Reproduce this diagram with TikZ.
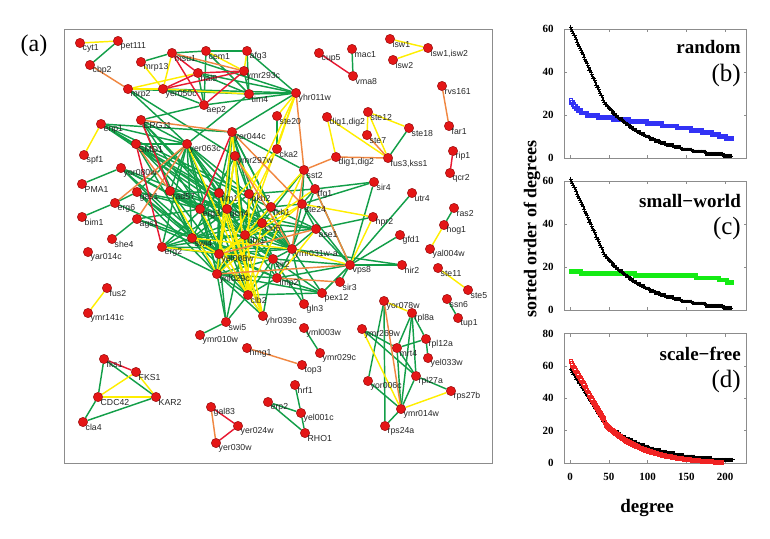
\documentclass[tikz,border=0pt]{standalone}
\usepackage{fontspec}
\setmainfont{Liberation Serif}
\newfontfamily\lsans{Liberation Sans}
\usetikzlibrary{plotmarks}
\pgfdeclarelayer{bg}
\pgfsetlayers{bg,main}
\definecolor{eg}{RGB}{18,158,72}
\definecolor{ey}{RGB}{255,238,0}
\definecolor{eo}{RGB}{240,135,65}
\definecolor{er}{RGB}{232,25,50}
\definecolor{dotred}{RGB}{228,22,22}
\definecolor{dotedge}{RGB}{140,0,0}
\definecolor{bluesq}{RGB}{50,50,245}
\definecolor{greensq}{RGB}{20,235,20}
\definecolor{redsq}{RGB}{240,35,35}
\newcommand\nd[4]{\node[dot] (#1) at (#2,#3) {}; \node[lbl] (#1-t) at (#2+2.5,#3+5.5) {#4};}
\tikzset{
  dot/.style={circle, fill=dotred, draw=dotedge, line width=0.4pt, inner sep=0pt, minimum size=9.4pt},
  lbl/.style={font=\lsans\fontsize{8.7}{9.5}\selectfont, text=black!85, inner sep=0pt, anchor=west},
  ge/.style={draw=eg, line width=1.45pt},
  gy/.style={draw=ey, line width=1.45pt},
  go/.style={draw=eo, line width=1.45pt},
  gr/.style={draw=er, line width=1.45pt},
  frm/.style={draw=black!45, line width=0.5pt},
  tickl/.style={font=\bfseries\fontsize{11}{12}\selectfont, inner sep=0pt},
  ttl/.style={font=\bfseries\fontsize{19}{22}\selectfont, inner sep=0pt, anchor=base east},
  pnl/.style={font=\fontsize{25}{28}\selectfont, inner sep=0pt, anchor=base east},
  plusp/.style={only marks, mark=+, mark size=1.9pt, mark options={draw=black, line width=0.7pt}},
  sqp/.style={only marks, mark=square, mark size=1.9pt, mark options={draw=#1, line width=0.65pt}},
}
\begin{document}
\begin{tikzpicture}[x=1pt,y=-1pt]
\useasboundingbox (0,0) rectangle (770,538);
\draw[frm] (64,29) rectangle (492,463);
\node[font=\fontsize{24}{28}\selectfont, inner sep=0pt] (pa) at (34,46) {(a)};
% nodes
\nd{cyt1}{80}{43}{cyt1}
\nd{pet111}{118}{41}{pet111}
\nd{cbp2}{90}{65}{cbp2}
\nd{mrp13}{141}{62}{mrp13}
\nd{msu1}{172}{53}{msu1}
\nd{cem1}{206}{51}{cem1}
\nd{afg3}{247}{51}{afg3}
\nd{hal9}{198}{73}{hal9}
\nd{ymr293c}{244}{71}{ymr293c}
\nd{mrp2}{128}{89}{mrp2}
\nd{yer050c}{163}{89}{yer050c}
\nd{aep2}{204}{105}{aep2}
\nd{tim4}{249}{94}{tim4}
\nd{yhr011w}{296}{93}{yhr011w}
\nd{cup5}{319}{53}{cup5}
\nd{mac1}{352}{49}{mac1}
\nd{vma8}{353}{76}{vma8}
\nd{isw1}{390}{39}{isw1}
\nd{iswb}{428}{48}{isw1,isw2}
\nd{isw2}{393}{60}{isw2}
\nd{rvs161}{442}{86}{rvs161}
\nd{far1}{449}{126}{far1}
\nd{rip1}{453}{151}{rip1}
\nd{qcr2}{450}{173}{qcr2}
\nd{ste20}{277}{116}{ste20}
\nd{digA}{327}{117}{dig1,dig2}
\nd{ste12}{368}{112}{ste12}
\nd{ste7}{367}{135}{ste7}
\nd{ste18}{409}{128}{ste18}
\nd{digB}{336}{157}{dig1,dig2}
\nd{fus3}{388}{158}{fus3,kss1}
\nd{enp1}{101}{124}{enp1}
\nd{ERG11}{141}{120}{ERG11}
\nd{yer044c}{232}{132}{yer044c}
\nd{cka2}{277}{149}{cka2}
\nd{SMD1}{136}{144}{SMD1}
\nd{yer063c}{187}{144}{yer063c}
\nd{spf1}{84}{155}{spf1}
\nd{ymr297w}{235}{156}{ymr297w}
\nd{yor080w}{121}{168}{yor080w}
\nd{sst2}{304}{170}{sst2}
\nd{PMA1}{82}{184}{PMA1}
\nd{gas1}{137}{192}{gas1}
\nd{rad57}{170}{191}{rad57}
\nd{tim1}{219}{193}{tim1}
\nd{pkh2}{249}{194}{pkh2}
\nd{tfg1}{315}{189}{tfg1}
\nd{sir4}{374}{182}{sir4}
\nd{utr4}{412}{193}{utr4}
\nd{erg6}{115}{203}{erg6}
\nd{erg3}{200}{209}{erg3}
\nd{gcn4}{227}{209}{gcn4}
\nd{fkh1}{271}{207}{fkh1}
\nd{ste24}{302}{204}{ste24}
\nd{ras2}{454}{208}{ras2}
\nd{bim1}{82}{217}{bim1}
\nd{ags1}{137}{219}{ags1}
\nd{cin5}{262}{223}{cin5}
\nd{hpr2}{373}{217}{hpr2}
\nd{hog1}{444}{225}{hog1}
\nd{ase1}{316}{229}{ase1}
\nd{gfd1}{400}{235}{gfd1}
\nd{she4}{112}{239}{she4}
\nd{ubr1}{245}{235}{ubr1}
\nd{swi4}{192}{238}{swi4}
\nd{erg2}{162}{247}{erg2}
\nd{yar014c}{88}{252}{yar014c}
\nd{yel008w}{219}{254}{yel008w}
\nd{ymr031}{292}{249}{ymr031w-a}
\nd{yal004w}{430}{249}{yal004w}
\nd{sir2}{273}{259}{sir2}
\nd{vps8}{350}{265}{vps8}
\nd{hir2}{402}{265}{hir2}
\nd{ste11}{438}{268}{ste11}
\nd{ynl029c}{217}{274}{ynl029c}
\nd{imp2}{277}{278}{imp2}
\nd{sir3}{340}{282}{sir3}
\nd{fus2}{107}{288}{fus2}
\nd{ste5}{468}{290}{ste5}
\nd{pex12}{322}{293}{pex12}
\nd{clb2}{248}{295}{clb2}
\nd{ssn6}{447}{299}{ssn6}
\nd{yor078w}{384}{301}{yor078w}
\nd{gln3}{304}{304}{gln3}
\nd{ymr141c}{88}{313}{ymr141c}
\nd{rpl8a}{412}{313}{rpl8a}
\nd{tup1}{458}{318}{tup1}
\nd{yhr039c}{263}{316}{yhr039c}
\nd{swi5}{226}{322}{swi5}
\nd{yml003w}{304}{328}{yml003w}
\nd{ymr269w}{362}{329}{ymr269w}
\nd{ymr010w}{200}{335}{ymr010w}
\nd{rpl12a}{426}{339}{rpl12a}
\nd{mrt4}{397}{348}{mrt4}
\nd{hmg1}{247}{348}{hmg1}
\nd{ymr029c}{320}{353}{ymr029c}
\nd{yel033w}{428}{358}{yel033w}
\nd{fks1}{104}{359}{fks1}
\nd{top3}{302}{365}{top3}
\nd{FKS1}{136}{372}{FKS1}
\nd{rpl27a}{416}{376}{rpl27a}
\nd{yor006c}{368}{381}{yor006c}
\nd{hrf1}{295}{385}{hrf1}
\nd{rps27b}{451}{391}{rps27b}
\nd{CDC42}{98}{397}{CDC42}
\nd{KAR2}{156}{397}{KAR2}
\nd{erp2}{268}{402}{erp2}
\nd{gal83}{211}{407}{gal83}
\nd{ymr014w}{401}{409}{ymr014w}
\nd{yel001c}{301}{413}{yel001c}
\nd{cla4}{83}{422}{cla4}
\nd{yer024w}{238}{426}{yer024w}
\nd{rps24a}{385}{426}{rps24a}
\nd{RHO1}{305}{433}{RHO1}
\nd{yer030w}{216}{443}{yer030w}
% edges
\begin{pgfonlayer}{bg}
\foreach \a/\b in {pet111/cbp2, mrp13/msu1, msu1/cem1, cem1/afg3, cem1/aep2, hal9/aep2, yer050c/aep2, aep2/yhr011w, tim4/yhr011w, msu1/yhr011w, hal9/yhr011w, afg3/tim4, mrp2/tim4, aep2/ERG11, mrp2/yer063c, ste20/cka2, mac1/vma8, ste18/fus3, utr4/vps8, gfd1/vps8, hir2/vps8, hir2/ymr031, sir4/tfg1, sir4/ste24, sir4/vps8, hpr2/ase1, ras2/hog1, ssn6/tup1, yor078w/rps24a, yor078w/yor006c, rpl8a/mrt4, rpl8a/rpl27a, rpl8a/ymr014w, rpl8a/rpl12a, ymr269w/mrt4, ymr269w/rpl27a, mrt4/rpl12a, mrt4/rpl27a, mrt4/ymr014w, rpl12a/yel033w, rpl27a/rps27b, rpl27a/ymr014w, ymr014w/rps24a, ymr014w/yor006c, yml003w/ymr029c, hrf1/yel001c, erp2/yel001c, erp2/RHO1, yel001c/RHO1, fks1/CDC42, fks1/KAR2, CDC42/cla4, cla4/KAR2, swi5/ymr010w, vps8/sir3, vps8/pex12, cem1/tim4, afg3/yhr011w, ymr293c/tim4, yer050c/yhr011w, hal9/tim4,
 enp1/yer044c, enp1/yer063c, enp1/tim1, enp1/gcn4, enp1/cin5, ERG11/yer063c, ERG11/swi4, ERG11/erg3, ERG11/gcn4, ERG11/ubr1, SMD1/yer063c, SMD1/swi4, SMD1/ubr1, SMD1/ymr031, SMD1/erg3, SMD1/ase1, yer063c/swi4, yer063c/erg2, yer063c/ynl029c, yer063c/yel008w, yer063c/ubr1, yer063c/gcn4, yer063c/tim1, yer063c/rad57, yer063c/gas1, yer063c/ymr031, yer063c/clb2, yer063c/pkh2, yer063c/sir2, yer044c/tim1, yer044c/gcn4, yer044c/ubr1, yer044c/cin5, yer044c/fkh1, yer044c/ymr031, yer044c/sst2, yer044c/pkh2, ymr297w/ubr1, ymr297w/swi4, ymr297w/ynl029c, ymr297w/sir2, yor080w/erg3, yor080w/swi4, yor080w/ubr1, yor080w/yel008w, yor080w/gcn4, gas1/erg3, gas1/gcn4, gas1/swi4, gas1/yel008w, gas1/ynl029c, rad57/tim1, rad57/erg3, rad57/ubr1, rad57/gcn4, rad57/swi4, rad57/yel008w, rad57/ymr031, erg6/gas1, erg6/swi4, ags1/swi4, ags1/erg3, ags1/yel008w, she4/ags1, bim1/erg6, PMA1/yor080w, erg2/swi4, erg2/tim1, erg2/ubr1, erg2/yel008w, erg2/ynl029c, erg2/gcn4, erg2/ymr031, swi4/ubr1, swi4/ynl029c, swi4/clb2, swi4/cin5, swi4/pkh2, swi4/fkh1, swi4/sir2, swi4/imp2, tim1/ubr1, tim1/cin5, tim1/ymr031, tim1/yel008w, tim1/ynl029c, erg3/ubr1, erg3/yel008w, erg3/ynl029c, erg3/cin5, erg3/sir2, gcn4/ubr1, gcn4/ymr031, gcn4/ynl029c, gcn4/clb2, gcn4/ase1, pkh2/ubr1, pkh2/ymr031, pkh2/tfg1, pkh2/sir2, fkh1/ubr1, fkh1/ynl029c, fkh1/ste24, cin5/yel008w, cin5/ynl029c, cin5/ase1, ubr1/ymr031, ubr1/sir2, ubr1/ynl029c, ubr1/clb2, ubr1/imp2, ubr1/ase1, yel008w/ymr031, yel008w/sir2, yel008w/clb2, yel008w/imp2, ynl029c/clb2, ynl029c/yhr039c, ynl029c/swi5, ynl029c/sir2, ynl029c/imp2, ynl029c/pex12, ymr031/sir2, ymr031/imp2, ymr031/ase1, ymr031/ste24, ymr031/tfg1, ymr031/gln3, ymr031/pex12, sir2/imp2, sir2/clb2, sir2/pex12, imp2/pex12, imp2/clb2, clb2/swi5, clb2/yhr039c, swi5/yel008w, swi5/ubr1, yhr039c/sir2, gln3/sir2, tfg1/ste24, ste24/ase1, tfg1/sst2, sst2/ste24, sst2/cin5, yhr011w/yer044c, tim4/yer063c, vps8/tfg1, vps8/ste24, vps8/ase1, vps8/imp2, vps8/sir2, pex12/clb2, yer044c/yel008w, enp1/pkh2, mrp2/ymr297w}
  \draw[ge] (\a) -- (\b);
\foreach \a/\b in {cyt1/pet111, mrp13/yer050c, cem1/ymr293c, afg3/ymr293c, mrp2/yer050c, mrp2/hal9, yer050c/tim4, yhr011w/ste20, yhr011w/cka2, isw1/iswb, isw2/iswb, digA/digB, digA/fus3, ste12/ste18, ste12/fus3, ste12/ste7, enp1/spf1, hog1/yal004w, ste11/ste5, yor078w/rpl8a, ymr269w/ymr014w, ymr014w/rps27b, FKS1/KAR2, FKS1/CDC42, CDC42/KAR2, fus2/ymr141c, hpr2/vps8, msu1/yer050c,
 yer044c/ymr297w, yer044c/ynl029c, yer044c/clb2, ymr297w/gcn4, ymr297w/yel008w, ymr297w/clb2, yer063c/yhr039c, swi4/ymr031, swi4/yel008w, erg2/sir2, tim1/clb2, gcn4/yhr039c, gcn4/yel008w, cin5/clb2, ubr1/yhr039c, yel008w/yhr039c, sst2/ubr1, sst2/clb2, tfg1/yel008w, ste24/ynl029c, ase1/imp2, hpr2/ste24, cka2/gcn4, cka2/ynl029c, ymr031/vps8, erg3/clb2, rad57/ynl029c, yhr011w/ubr1, yhr011w/pkh2, ymr297w/fkh1, tim1/yhr039c, pkh2/clb2, ste24/yel008w}
  \draw[gy] (\a) -- (\b);
\foreach \a/\b in {cbp2/mrp2, msu1/ymr293c, rvs161/far1, ste7/fus3, digB/fus3, digB/sst2, yhr011w/sst2, yor078w/ymr014w, hmg1/top3, gal83/yer030w, imp2/sir3, ERG11/yer044c, yer063c/ags1, yel008w/ase1, ynl029c/vps8, sst2/ymr031, tfg1/vps8, ymr297w/ymr031, yer063c/erg6, yer044c/ste24, SMD1/rad57}
  \draw[go] (\a) -- (\b);
\foreach \a/\b in {cup5/vma8, rip1/qcr2, fks1/FKS1, gal83/yer024w, yer024w/yer030w, msu1/hal9, msu1/aep2, yer050c/hal9, hal9/ymr293c, yer050c/ymr293c, aep2/ymr293c, ERG11/rad57, SMD1/erg2, yer044c/erg3}
  \draw[gr] (\a) -- (\b);
\end{pgfonlayer}
% ---------- plots ----------
\node[font=\bfseries\fontsize{18}{21}\selectfont, rotate=90, inner sep=0pt] (ylab) at (532,229) {sorted order of degrees};
\node[font=\bfseries\fontsize{19}{22}\selectfont, inner sep=0pt] (xlab) at (647,508) {degree};
% (b)
\begin{scope}[shift={(570,158)}, xscale=0.775, yscale=-2.15]
  \draw[frm] (-7.7,0) rectangle (228,60);
  \foreach \v in {0,20,40,60} {\draw[frm] (-7.7,\v) -- ++(4,0); \draw[frm] (228,\v) -- ++(-4,0); \node[tickl, anchor=east] (tb\v) at (-21,\v) {\v};}
  \foreach \d in {0,50,...,200} {\draw[frm] (\d,0) -- ++(0,1.4); \draw[frm] (\d,60) -- ++(0,-1.4);}
\end{scope}
\path plot[sqp=bluesq, domain=1:208, samples=208] ({570+0.775*\x}, {158-2.15*round(21-0.045*\x+7*exp(-\x/8)-3*exp(-(208-\x)/30))});
\path plot[plusp, domain=1:208, samples=208] ({570+0.775*\x}, {158-2.15*round(max(61.5-0.8*\x, 54.6*exp(-\x/60.7)-0.6))});
\node[ttl] (tb) at (741,53) {random};
\node[pnl] (pb) at (741,81) {(b)};
% (c)
\begin{scope}[shift={(570,310)}, xscale=0.775, yscale=-2.15]
  \draw[frm] (-7.7,0) rectangle (228,60);
  \foreach \v in {0,20,40,60} {\draw[frm] (-7.7,\v) -- ++(4,0); \draw[frm] (228,\v) -- ++(-4,0); \node[tickl, anchor=east] (tc\v) at (-21,\v) {\v};}
  \foreach \d in {0,50,...,200} {\draw[frm] (\d,0) -- ++(0,1.4); \draw[frm] (\d,60) -- ++(0,-1.4);}
\end{scope}
\path plot[sqp=greensq, domain=1:208, samples=208] ({570+0.775*\x}, {310-2.15*round(17.5-0.012*\x+0.8*exp(-\x/10)-2.5*exp(-(208-\x)/12))});
\path plot[plusp, domain=1:208, samples=208] ({570+0.775*\x}, {310-2.15*round(max(61.5-0.8*\x, 54.6*exp(-\x/60.7)-0.6))});
\node[ttl] (tc) at (741,207) {small−world};
\node[pnl] (pc) at (741,234) {(c)};
% (d)
\begin{scope}[shift={(570,463)}, xscale=0.775, yscale=-1.617]
  \draw[frm] (-7.7,0) rectangle (228,80);
  \foreach \v in {0,20,40,60,80} {\draw[frm] (-7.7,\v) -- ++(4,0); \draw[frm] (228,\v) -- ++(-4,0); \node[tickl, anchor=east] (td\v) at (-21,\v) {\v};}
  \foreach \d in {0,50,...,200} {\draw[frm] (\d,0) -- ++(0,1.9); \draw[frm] (\d,80) -- ++(0,-1.9); \node[tickl, anchor=base] (tx\d) at (\d,-11) {\d};}
\end{scope}
\path plot[plusp, domain=1:210, samples=210] ({570+0.775*\x}, {463-1.617*round(max(58.5-0.76*\x, 52*exp(-\x/60)))});
\path plot[sqp=redsq, domain=1:195, samples=160] ({570+0.775*\x}, {463-1.617*max(0,max(63.5-0.85*\x, 62*exp(-\x/50)-0.8))});
\node[ttl] (td) at (741,360) {scale−free};
\node[pnl] (pd) at (741,387) {(d)};
\end{tikzpicture}
\end{document}
